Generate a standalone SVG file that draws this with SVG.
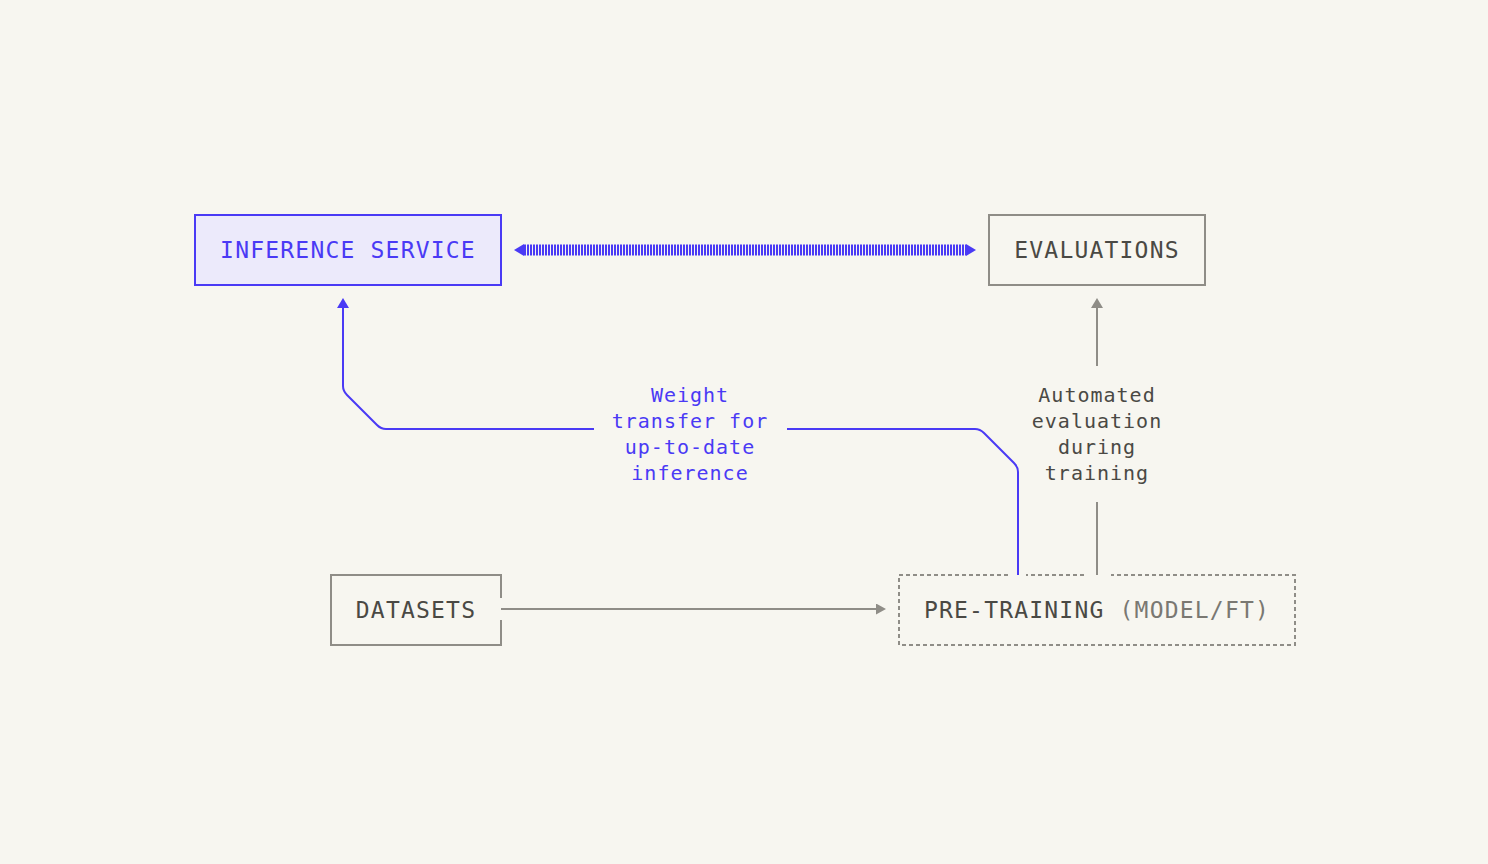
<svg xmlns="http://www.w3.org/2000/svg" width="1488" height="864" viewBox="0 0 1488 864">
<defs>
<style>
.t{font-family:"DejaVu Sans Mono","Liberation Mono",monospace;font-size:23px;letter-spacing:1.2px;text-anchor:middle}
.l{font-family:"DejaVu Sans Mono","Liberation Mono",monospace;font-size:20px;letter-spacing:1px;text-anchor:middle}
.dark{fill:#4a4944}
.light{fill:#7a7872}
.blue{fill:#4a3af5}
.gbox{fill:none;stroke:#8f8d87;stroke-width:2}
</style>
<marker id="ab" markerUnits="userSpaceOnUse" markerWidth="10" markerHeight="12" refX="0" refY="6" orient="auto-start-reverse" viewBox="0 0 10 12"><path d="M0,0 L10,6 L0,12 z" fill="#4a3af5"/></marker>
<marker id="ag" markerUnits="userSpaceOnUse" markerWidth="10" markerHeight="12" refX="0" refY="6" orient="auto" viewBox="0 0 10 12"><path d="M0,0 L10,6 L0,12 z" fill="#8f8d87"/></marker>
<marker id="ag2" markerUnits="userSpaceOnUse" markerWidth="10" markerHeight="11" refX="0" refY="5.5" orient="auto" viewBox="0 0 10 11"><path d="M0,0 L10,5.5 L0,11 z" fill="#8f8d87"/></marker>
</defs>
<rect width="1488" height="864" fill="#f7f6f0"/>
<g id="connectors">
<line x1="524" y1="250" x2="966" y2="250" stroke="#4a3af5" stroke-width="11" stroke-dasharray="2 1" marker-start="url(#ab)" marker-end="url(#ab)"/>
<path d="M1018,575 V472 Q1018,467 1014,463 L984,433 Q980,429 975,429 H787 M594,429 H386 Q381,429 377,425 L347,395 Q343,391 343,386 V308" fill="none" stroke="#4a3af5" stroke-width="2" marker-end="url(#ab)"/>
<path d="M1097,575 V502 M1097,366 V308" fill="none" stroke="#8f8d87" stroke-width="2" marker-end="url(#ag)"/>
<line x1="501" y1="609" x2="876" y2="609" stroke="#8f8d87" stroke-width="2" marker-end="url(#ag2)"/>
<text class="l blue"><tspan x="690" y="402">Weight</tspan><tspan x="690" y="428">transfer for</tspan><tspan x="690" y="454">up-to-date</tspan><tspan x="690" y="480">inference</tspan></text>
<text class="l dark"><tspan x="1097" y="402">Automated</tspan><tspan x="1097" y="428">evaluation</tspan><tspan x="1097" y="454">during</tspan><tspan x="1097" y="480">training</tspan></text>
</g>
<g id="inference-service">
<rect x="195" y="215" width="306" height="70" fill="#eceafb" stroke="#4a3af5" stroke-width="2"/>
<text class="t blue" x="348" y="258">INFERENCE SERVICE</text>
</g>
<g id="evaluations">
<rect class="gbox" x="989" y="215" width="216" height="70"/>
<text class="t dark" x="1097" y="258">EVALUATIONS</text>
</g>
<g id="datasets">
<path class="gbox" d="M501,598 V575 H331 V645 H501 V620"/>
<text class="t dark" x="416" y="618">DATASETS</text>
</g>
<g id="pre-training">
<path class="gbox" stroke-dasharray="4 3" d="M1008,575 H899 V645 H1295 V575 H1111 M1084,575 H1026"/>
<text class="t" x="1097" y="618"><tspan class="dark">PRE-TRAINING</tspan><tspan class="light"> (MODEL/FT)</tspan></text>
</g>
</svg>
